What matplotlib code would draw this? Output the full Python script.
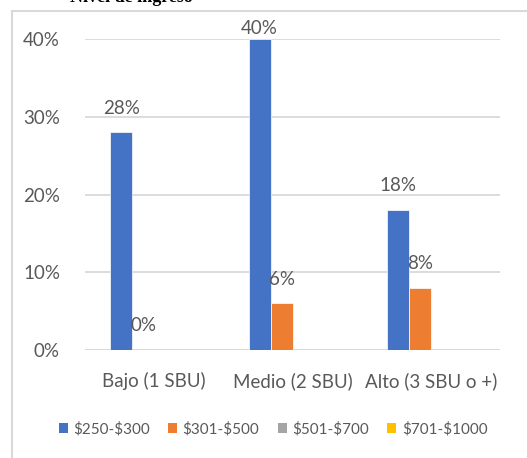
import matplotlib
matplotlib.use("Agg")
import matplotlib.pyplot as plt
from matplotlib.lines import Line2D
from matplotlib.patches import Patch
import numpy as np

plt.rcParams['font.family'] = ['Lato', 'DejaVu Sans']
plt.rcParams['text.parse_math'] = False

categories = ["Bajo (1 SBU)", "Medio (2 SBU)", "Alto (3 SBU o +)"]
series_names = ["$250-$300", "$301-$500", "$501-$700", "$701-$1000"]
s_250_300 = [0.28, 0.40, 0.18]
s_301_500 = [0.00, 0.06, 0.08]
s_501_700 = [0.00, 0.00, 0.00]
s_701_1000 = [0.00, 0.00, 0.00]
series_values = [s_250_300, s_301_500, s_501_700, s_701_1000]
labelled_series = [True, True, False, False]
y_ticks = [0.0, 0.1, 0.2, 0.3, 0.4]
y_tick_labels = ["0%", "10%", "20%", "30%", "40%"]

colors = ["#4472C4", "#ED7D31", "#A5A5A5", "#FFC000"]
text_color = "#595959"
grid_color = "#D9D9D9"

W, H = 527, 458
fig = plt.figure(figsize=(W / 100, H / 100), dpi=100)

# chart frame (open towards right/bottom)
fx0, fy0 = 12 / W, 1 - 11 / H
fig.add_artist(Line2D([fx0, fx0], [fy0, 0], transform=fig.transFigure,
                      color="#D9D9D9", lw=1.5))
fig.add_artist(Line2D([fx0, 1], [fy0, fy0], transform=fig.transFigure,
                      color="#D9D9D9", lw=1.5))

# heading above the chart, cut by the top edge
fig.text(193 / W, 1 - 1.5 / H, "Nivel de ingreso", ha="right", va="baseline",
         fontsize=13, fontweight="bold", family="Liberation Serif", color="black")

left, right = 85 / W, 500 / W
bottom, top = 1 - 350 / H, 1 - 39 / H
ax = fig.add_axes([left, bottom, right - left, top - bottom])

n = len(series_values)
x = np.arange(len(categories))
width = 0.159
ymax = 0.40

for i, (name, vals, col) in enumerate(zip(series_names, series_values, colors)):
    pos = x + (i - (n - 1) / 2) * width
    ax.bar(pos, vals, width, color=col, edgecolor="white", linewidth=0.5,
           label=name, zorder=3)
    if labelled_series[i]:
        for px, v in zip(pos, vals):
            ty = min(v + 0.031, ymax + 0.014)
            ax.text(px, ty, f"{v:.0%}", ha="center", va="center",
                    fontsize=13.5, color=text_color, clip_on=False, zorder=4)

ax.set_xlim(-0.5, len(categories) - 0.5)
ax.set_ylim(0, ymax)
ax.set_yticks(y_ticks)
ax.set_yticklabels(y_tick_labels)
ax.set_xticks(x)
ax.set_xticklabels(categories)
ax.tick_params(axis="y", length=0, pad=18, labelsize=13.5, labelcolor=text_color)
ax.tick_params(axis="x", length=0, pad=16, labelsize=13.5, labelcolor=text_color)
ax.grid(axis="y", color=grid_color, lw=1.3, zorder=0)
for s in ax.spines.values():
    s.set_visible(False)
ax.axhline(0, color=grid_color, lw=1.3, zorder=2)

handles = [Patch(facecolor=c, edgecolor="none") for c in colors]
fig.legend(handles, series_names, loc="center", ncol=4,
           bbox_to_anchor=(273 / W, 1 - 429 / H), frameon=False,
           fontsize=11, labelcolor=text_color, handlelength=0.6,
           handleheight=0.6, handletextpad=0.35, columnspacing=1.2)

fig.savefig("out.png", dpi=100)
